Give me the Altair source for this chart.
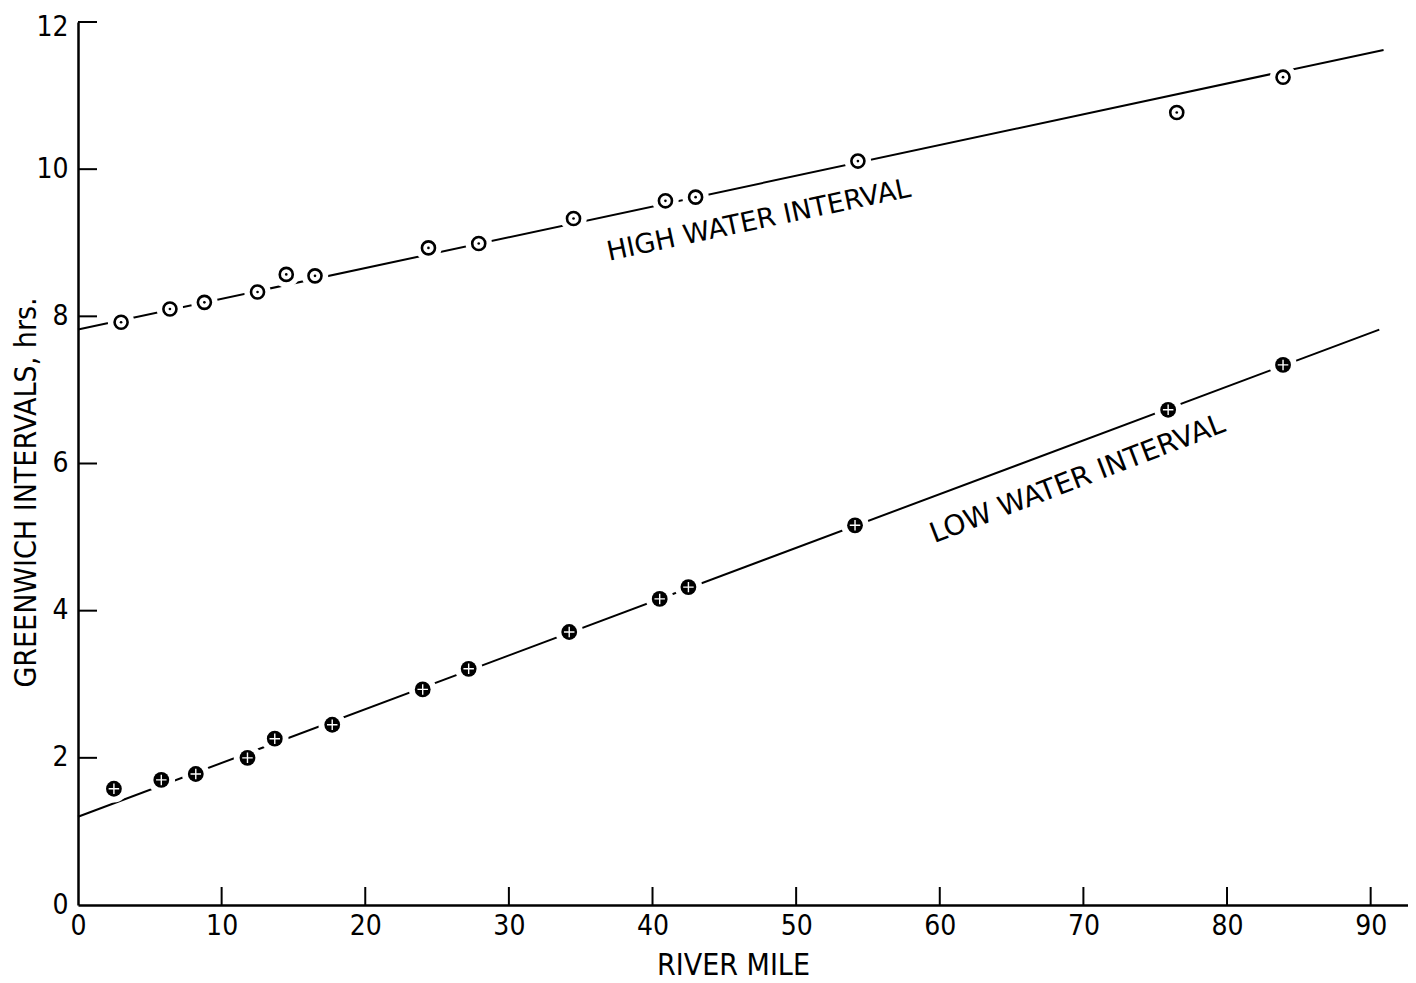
import altair as alt
import pandas as pd

# ---- data ----
high_mile = [3.0, 6.4, 8.8, 12.5, 14.5, 16.5, 24.4, 27.9, 34.5, 40.9, 43.0, 54.3, 76.5, 83.9]
high_hrs = [7.92, 8.10, 8.19, 8.33, 8.57, 8.55, 8.93, 8.99, 9.33, 9.57, 9.62, 10.11, 10.77, 11.25]

low_mile = [2.5, 5.8, 8.2, 11.8, 13.7, 17.7, 24.0, 27.2, 34.2, 40.5, 42.5, 54.1, 75.9, 83.9]
low_hrs = [1.58, 1.70, 1.78, 2.00, 2.26, 2.45, 2.93, 3.21, 3.71, 4.16, 4.32, 5.16, 6.73, 7.34]

# fitted straight lines (end points)
high_fit_mile = [0.0, 90.9]
high_fit_hrs = [7.82, 11.62]
low_fit_mile = [0.0, 90.6]
low_fit_hrs = [1.20, 7.82]

x_ticks = [0, 10, 20, 30, 40, 50, 60, 70, 80, 90]
y_ticks = [0, 2, 4, 6, 8, 10, 12]

labels = ["HIGH WATER INTERVAL", "LOW WATER INTERVAL"]
label_mile = [47.4, 69.6]
label_hrs = [9.30, 5.78]

# ---- tables ----
high_df = pd.DataFrame({"mile": high_mile, "hrs": high_hrs})
low_df = pd.DataFrame({"mile": low_mile, "hrs": low_hrs})
fit_df = pd.DataFrame({
    "mile": high_fit_mile + low_fit_mile,
    "hrs": high_fit_hrs + low_fit_hrs,
    "series": ["high"] * 2 + ["low"] * 2,
})
xt_df = pd.DataFrame({"mile": [t for t in x_ticks if t > 0]})
yt_df = pd.DataFrame({"hrs": [t for t in y_ticks if t > 0]})
lab_df = pd.DataFrame({"text": labels, "mile": label_mile, "hrs": label_hrs})

W, H = 1330, 883
FONT = "Liberation Sans Narrow, DejaVu Sans Condensed, Liberation Sans"

xs = alt.Scale(domain=[0, 92.6], nice=False, zero=False)
ys = alt.Scale(domain=[0, 12], nice=False, zero=False)

x_axis = alt.Axis(
    values=x_ticks, title="RIVER MILE", labelPadding=7, labelFlush=False,
    titleX=655, titleY=69, titleBaseline="alphabetic", titleAnchor="start", titleAlign="center")
y_axis = alt.Axis(
    values=y_ticks, title="GREENWICH INTERVALS, hrs.", labelPadding=10, labelFlush=False,
    labelOffset=alt.ExprRef("datum.value == 12 ? 5 : 0"),
    titleX=-52, titleY=470, titleAngle=270, titleAlign="center", titleBaseline="middle",
    titleAnchor="start")

X = alt.X("mile:Q", scale=xs, axis=x_axis, title="RIVER MILE")
Y = alt.Y("hrs:Q", scale=ys, axis=y_axis, title="GREENWICH INTERVALS, hrs.")

lines = alt.Chart(fit_df).mark_line(color="black", strokeWidth=2).encode(
    x=X, y=Y, detail="series:N",
)

high_halo = alt.Chart(high_df).mark_point(shape="circle", filled=True, color="white", size=700, opacity=1).encode(x=X, y=Y)
low_halo = alt.Chart(low_df).mark_point(shape="circle", filled=True, color="white", size=760, opacity=1).encode(x=X, y=Y)

high_ring = alt.Chart(high_df).mark_point(shape="circle", filled=False, color="black", strokeWidth=2.6, size=170, opacity=1).encode(x=X, y=Y)
high_dot = alt.Chart(high_df).mark_point(shape="circle", filled=True, color="black", size=7, opacity=1).encode(x=X, y=Y)

low_disc = alt.Chart(low_df).mark_point(shape="circle", filled=True, color="black", size=250, opacity=1).encode(x=X, y=Y)
low_cross = alt.Chart(low_df).mark_point(shape="M-1,0L1,0M0,-1L0,1", filled=False, color="white",
                                         strokeWidth=1.4, size=110, opacity=1).encode(x=X, y=Y)

xticks = alt.Chart(xt_df).mark_rule(color="black", strokeWidth=2).encode(
    x=X, y=alt.value(H), y2=alt.value(H - 18))
yticks = alt.Chart(yt_df).mark_rule(color="black", strokeWidth=2).encode(
    y=Y, x=alt.value(0), x2=alt.value(19))

hi_lab = alt.Chart(lab_df.iloc[[0]]).mark_text(
    angle=348, fontSize=27, font="DejaVu Sans", fontWeight="normal", color="black",
    align="center", baseline="middle").encode(x=X, y=Y, text="text:N")
lo_lab = alt.Chart(lab_df.iloc[[1]]).mark_text(
    angle=339, fontSize=28, font="DejaVu Sans", fontWeight="normal", color="black",
    align="center", baseline="middle").encode(x=X, y=Y, text="text:N")

chart = alt.layer(
    lines, high_halo, low_halo, high_ring, high_dot, low_disc, low_cross,
    xticks, yticks, hi_lab, lo_lab,
).properties(
    width=W, height=H,
    autosize=alt.AutoSizeParams(type="none"),
    padding={"left": 70, "top": 14, "right": 0, "bottom": 78},
    background="white",
).configure_view(strokeWidth=0).configure_axis(
    grid=False, ticks=False, domainColor="black", domainWidth=2.5,
    labelFont=FONT, labelFontSize=28, labelColor="black",
    titleFont=FONT, titleFontSize=30, titleFontWeight="normal", titleColor="black",
)

chart.save("out.html", embed_options={"renderer": "svg", "actions": False})
